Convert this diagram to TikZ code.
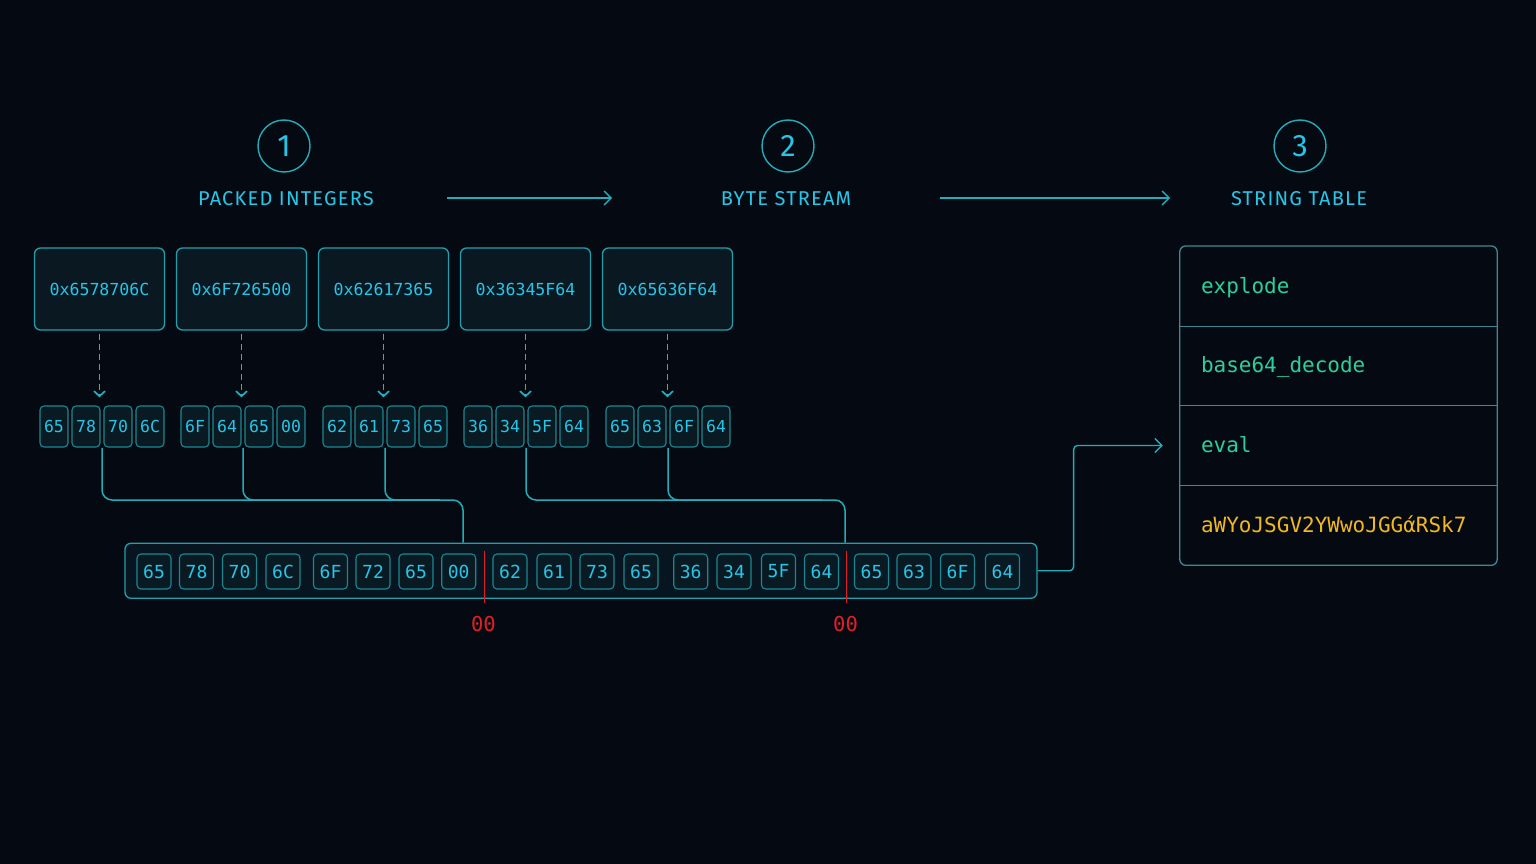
\documentclass[tikz,border=0pt]{standalone}
\usepackage{fontspec}
\usetikzlibrary{arrows.meta,fit,calc}
\newfontfamily\lblfont{Fira Sans}[LetterSpace=6]
\newfontfamily\mono{DejaVu Sans Mono}
\definecolor{bg}{HTML}{050A12}
\definecolor{cyantxt}{HTML}{26C6E8}
\definecolor{tealline}{HTML}{22ADB9}
\definecolor{dashline}{HTML}{25B5C2}
\definecolor{boxfill}{HTML}{0A1822}
\definecolor{boxline}{HTML}{1FA0AC}
\definecolor{bytefill}{HTML}{0A1A23}
\definecolor{byteline}{HTML}{1A8893}
\definecolor{barfill}{HTML}{071520}
\definecolor{tblline}{HTML}{3F8993}
\definecolor{greentxt}{HTML}{2BD09C}
\definecolor{yellowtxt}{HTML}{F2B81E}
\definecolor{nullred}{HTML}{E51E26}
\tikzset{
  stepnum/.style={circle, draw=tealline, line width=1.4pt, minimum size=52pt, inner sep=0pt,
    text=cyantxt, font=\lblfont\fontsize{31}{31}\selectfont},
  steplbl/.style={text=cyantxt, inner sep=0pt, font=\lblfont\fontsize{20}{22}\selectfont},
  flow/.style={draw=tealline, line width=1.4pt, -{Straight Barb[length=7pt,width=14pt]}},
  intbox/.style={draw=boxline, fill=boxfill, line width=1.3pt, rounded corners=6pt,
    minimum width=130pt, minimum height=82pt, inner sep=0pt, text=cyantxt,
    font=\mono\fontsize{16.6}{18}\selectfont},
  bytebox/.style={draw=byteline, fill=bytefill, line width=1.1pt, rounded corners=4pt,
    minimum width=28pt, minimum height=41pt, inner sep=0pt, text=cyantxt,
    font=\mono\fontsize{16.5}{18}\selectfont},
  splitarrow/.style={draw=dashline, line width=1.6pt, dash pattern=on 6pt off 4pt,
    -{Straight Barb[length=5pt,width=11pt]}, shorten >=8pt, shorten <=3pt},
  conn/.style={draw=tealline, line width=1.5pt, rounded corners=10pt},
  barbox/.style={draw=boxline, fill=barfill, line width=1.3pt, rounded corners=6pt,
    minimum width=912pt, minimum height=55pt, inner sep=0pt},
  seqbox/.style={draw=byteline, fill=bytefill, line width=1.1pt, rounded corners=4pt,
    minimum width=34pt, minimum height=35pt, inner sep=0pt, text=cyantxt,
    font=\mono\fontsize{18}{19}\selectfont},
  nullline/.style={draw=nullred, line width=1.5pt},
  nulllbl/.style={text=nullred, inner sep=0pt, font=\mono\fontsize{20.5}{22}\selectfont},
  tblrow/.style={minimum width=317pt, minimum height=79.75pt, inner ysep=0pt, inner xsep=21pt,
    text width=275pt, align=left, text height=18pt, text depth=4pt,
    font=\mono\fontsize{21}{24}\selectfont},
  tblbox/.style={draw=tblline, line width=1.3pt, rounded corners=6pt, inner sep=0pt},
  tblsep/.style={draw=tblline, line width=1.1pt}
}
\begin{document}
\begin{tikzpicture}[x=1pt,y=-1pt]
\fill[bg] (0,0) rectangle (1536,864);
\useasboundingbox (0,0) rectangle (1536,864);

% step headers
\node[stepnum] (c1) at (284,146) {1};
\node[stepnum] (c2) at (788,146) {2};
\node[stepnum] (c3) at (1300,146) {3};
\node[steplbl] (l1) at (286,199) {PACKED INTEGERS};
\node[steplbl] (l2) at (786,199) {BYTE STREAM};
\node[steplbl] (l3) at (1299,199) {STRING TABLE};
\coordinate (a1s) at (447,198);
\coordinate (a1e) at (612,198);
\coordinate (a2s) at (940,198);
\coordinate (a2e) at (1170,198);
\draw[flow] (a1s) -- (a1e);
\draw[flow] (a2s) -- (a2e);

% packed integers
\node[intbox] (i1) at (99.5,289) {0x6578706C};
\node[intbox] (i2) at (241.5,289) {0x6F726500};
\node[intbox] (i3) at (383.5,289) {0x62617365};
\node[intbox] (i4) at (525.5,289) {0x36345F64};
\node[intbox] (i5) at (667.5,289) {0x65636F64};

% byte groups
\foreach \g/\x/\ba/\bb/\bc/\bd in {1/40/65/78/70/6C, 2/181/6F/64/65/00, 3/323/62/61/73/65, 4/464/36/34/5F/64, 5/606/65/63/6F/64}{
  \node[bytebox] (b\g1) at (\x+14,426.5) {\ba};
  \node[bytebox] (b\g2) at (\x+46,426.5) {\bb};
  \node[bytebox] (b\g3) at (\x+78,426.5) {\bc};
  \node[bytebox] (b\g4) at (\x+110,426.5) {\bd};
  \node[fit=(b\g1)(b\g4), inner sep=0pt] (g\g) {};
}
\foreach \g in {1,...,5}{
  \draw[splitarrow] (i\g.south) -- (i\g.south |- g\g.north);
}

% byte stream bar
\node[barbox] (bar) at (581,570.75) {};
\coordinate (j1) at (463,500);
\coordinate (j2) at (845,500);
\coordinate (k1) at (440,500);
\coordinate (k2) at (822,500);
\draw[conn] (g1.south) |- (j1) -- (j1 |- bar.north);
\draw[conn] (g2.south) |- (k1);
\draw[conn] (g3.south) |- (k1);
\draw[conn] (g4.south) |- (j2) -- (j2 |- bar.north);
\draw[conn] (g5.south) |- (k2);

\foreach \i/\x/\t in {1/154/65, 2/196.5/78, 3/239.5/70, 4/283/6C,
  5/330.5/6F, 6/373/72, 7/416/65, 8/458.7/00,
  9/510/62, 10/554/61, 11/597/73, 12/641/65,
  13/690.7/36, 14/734/34, 15/778.5/5F, 16/821.5/64,
  17/871.5/65, 18/914/63, 19/957.5/6F, 20/1002.5/64}{
  \node[seqbox] (s\i) at (\x,571.5) {\t};
}

% null terminators
\coordinate (z1) at ($(s8.east)!0.5!(s9.west)$);
\coordinate (z2) at ($(s16.east)!0.5!(s17.west)$);
\draw[nullline] ($(z1)+(0,-21)$) -- ($(z1)+(0,31)$);
\draw[nullline] ($(z2)+(0,-21)$) -- ($(z2)+(0,31)$);
\node[nulllbl] (n1) at ($(z1)+(-1,52.5)$) {00};
\node[nulllbl] (n2) at ($(z2)+(-1,52.5)$) {00};

% string table
\node[tblrow, text=greentxt] (r1) at (1338.5,286) {explode};
\node[tblrow, text=greentxt] (r2) at (1338.5,365.75) {base64\_decode};
\node[tblrow, text=greentxt] (r3) at (1338.5,445.5) {eval};
\node[tblrow, text=yellowtxt] (r4) at (1338.5,525.25) {aWYoJSGV2YWwoJGGάRSk7};
\node[tblbox, fit=(r1)(r4)] (tbl) {};
\draw[tblsep] (r1.south west) -- (r1.south east);
\draw[tblsep] (r2.south west) -- (r2.south east);
\draw[tblsep] (r3.south west) -- (r3.south east);

% bar to table
\draw[draw=tealline, line width=1.4pt, rounded corners=4pt, -{Straight Barb[length=7pt,width=14pt]}]
  (bar.east) -- ++(36,0) |- ([xshift=-17pt]r3.west);
\end{tikzpicture}
\end{document}
